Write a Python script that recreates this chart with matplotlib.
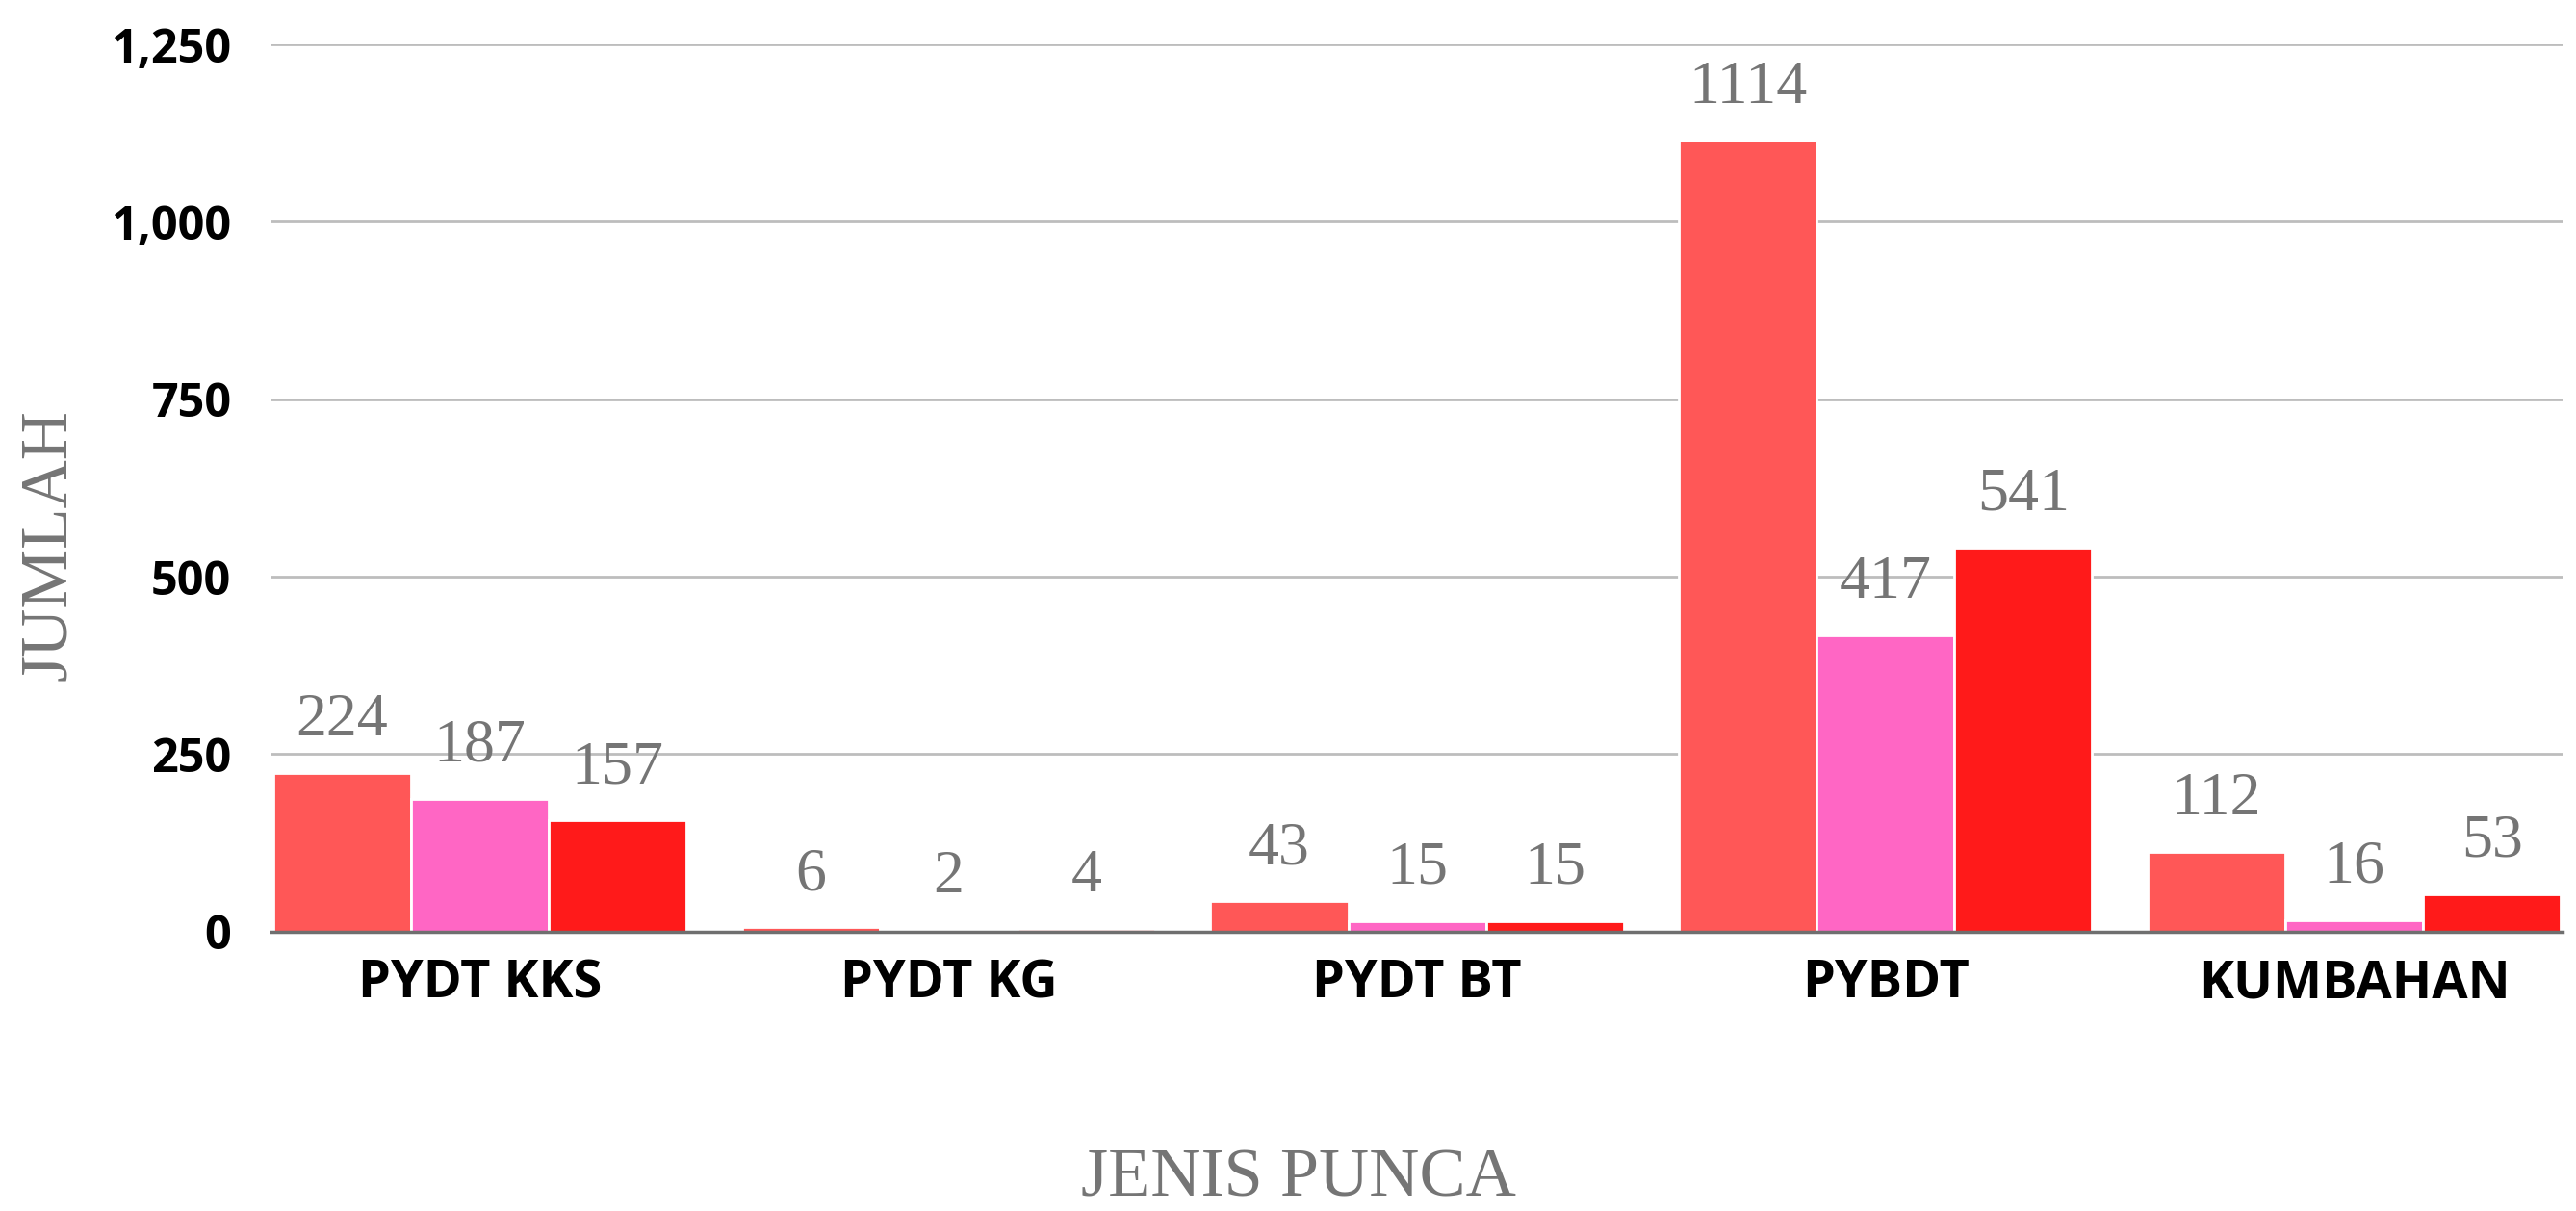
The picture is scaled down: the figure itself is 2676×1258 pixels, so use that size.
import matplotlib
matplotlib.use("Agg")
import matplotlib.pyplot as plt
import numpy as np

# DATA
categories = ["PYDT KKS", "PYDT KG", "PYDT BT", "PYBDT", "KUMBAHAN"]
series_a = [224, 6, 43, 1114, 112]
series_b = [187, 2, 15, 417, 16]
series_c = [157, 4, 15, 541, 53]
y_ticks = [0, 250, 500, 750, 1000, 1250]
y_ticklabels = ["0", "250", "500", "750", "1,000", "1,250"]

colors = ["#FF5757", "#FF66C4", "#FF1A1A"]
serif = ["Liberation Serif", "DejaVu Serif"]
label_grey = "#757575"

fig = plt.figure(figsize=(26.76, 12.58), dpi=100)
ax = fig.add_axes([0.1054, 0.2308, 0.8894, 0.7326])

x = np.arange(len(categories))
w = 0.294
for i, (vals, c) in enumerate(zip([series_a, series_b, series_c], colors)):
    pos = x + (i - 1) * w
    bars = ax.bar(pos, vals, width=w, color=c, edgecolor="white", linewidth=2, zorder=3)
    for b, v in zip(bars, vals):
        ax.annotate(str(v), (b.get_x() + b.get_width() / 2, v), xytext=(0, 28),
                    textcoords="offset points", ha="center", va="baseline",
                    fontsize=46, color=label_grey, family=serif, zorder=4)

ax.set_xlim(-0.445, 4.445)
ax.set_ylim(0, 1250)
ax.set_yticks(y_ticks)
ax.set_yticklabels(y_ticklabels)
ax.set_xticks(x)
ax.set_xticklabels(categories)
for lab in ax.get_yticklabels():
    lab.set_fontfamily("Open Sans")
    lab.set_fontweight("bold")
    lab.set_fontsize(35)
for lab in ax.get_xticklabels():
    lab.set_fontfamily("Open Sans")
    lab.set_fontweight("bold")
    lab.set_fontsize(39)
ax.tick_params(axis="both", length=0, colors="black")
ax.tick_params(axis="y", pad=30)
ax.tick_params(axis="x", pad=20)

ax.grid(axis="y", color="#BDBDBD", linewidth=2, zorder=0)
for s in ["top", "right", "left"]:
    ax.spines[s].set_visible(False)
ax.spines["bottom"].set_color("#6F6F6F")
ax.spines["bottom"].set_linewidth(2.5)
ax.spines["bottom"].set_zorder(5)

fig.text(0.019, 0.55, "JUMLAH", rotation=90, ha="center", va="center",
         fontsize=50, color=label_grey, family=serif)
fig.text(0.504, 0.012, "JENIS PUNCA", ha="center", va="baseline",
         fontsize=52, color=label_grey, family=serif)

fig.savefig("out.png", dpi=100)
